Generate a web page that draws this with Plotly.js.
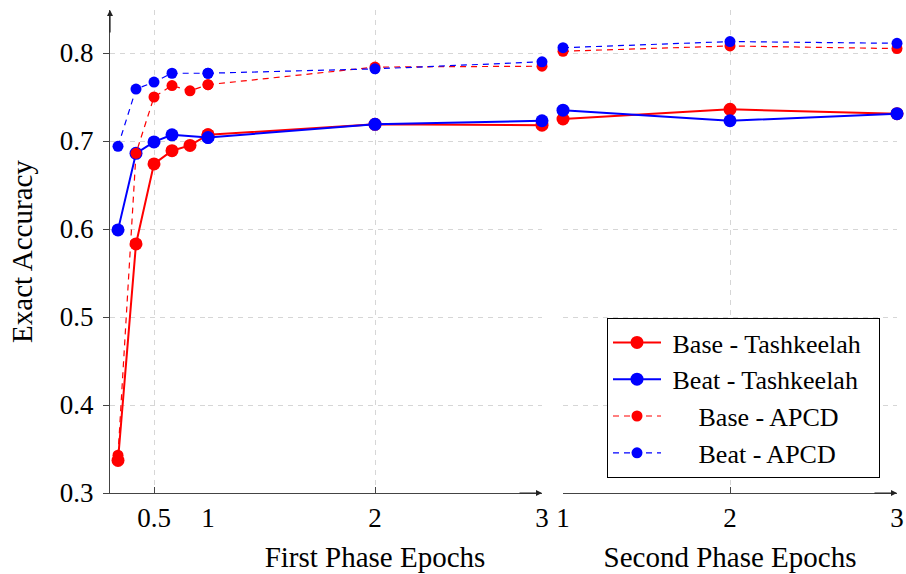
<!DOCTYPE html>
<html>
<head>
<meta charset="utf-8">
<script src="https://cdn.plot.ly/plotly-3.0.1.min.js"></script>
<style>html,body{margin:0;padding:0;background:#fff;}#chart{width:906px;height:574px;}</style>
</head>
<body>
<div id="chart"></div>
<script>
// ---- data ----
const phase1Epochs = [1/6, 2/6, 3/6, 4/6, 5/6, 1, 2, 3];
const phase2Epochs = [1, 2, 3];

const baseTashP1 = [0.337, 0.583, 0.674, 0.689, 0.695, 0.707, 0.719, 0.718];
const beatTashP1 = [0.599, 0.686, 0.699, 0.707, null, 0.704, 0.719, 0.723];
const baseApcdP1 = [0.343, 0.686, 0.750, 0.763, 0.757, 0.764, 0.784, 0.785];
const beatApcdP1 = [0.694, 0.759, 0.767, 0.777, null, 0.777, 0.782, 0.790];

const baseTashP2 = [0.725, 0.736, 0.731];
const beatTashP2 = [0.735, 0.723, 0.731];
const baseApcdP2 = [0.802, 0.808, 0.805];
const beatApcdP2 = [0.806, 0.813, 0.811];

const seriesNames = ["Base - Tashkeelah", "Beat - Tashkeelah", "Base - APCD", "Beat - APCD"];
const yTickVals = [0.3, 0.4, 0.5, 0.6, 0.7, 0.8];
const yTickText = ["0.3", "0.4", "0.5", "0.6", "0.7", "0.8"];
const xTickValsA = [0.5, 1];
const xTickTextA = ["0.5", "1"];
const xTickValsB = [2, 3];
const xTickTextB = ["2", "3"];
const xTickValsC = [1, 2, 3];
const xTickTextC = ["1", "2", "3"];

// ---- styles ----
const FONT = "Liberation Serif, Times New Roman, serif";
const RED = "#ff0000", BLUE = "#0000ff";
const NB = "\u00a0";
const styles = [
  {color: RED, dash: "solid", width: 2, size: 13, pad: NB, tail: NB + NB},
  {color: BLUE, dash: "solid", width: 2, size: 13, pad: NB, tail: NB + NB},
  {color: RED, dash: "6px,5px", width: 1.2, size: 11, pad: NB.repeat(5), tail: ""},
  {color: BLUE, dash: "6px,5px", width: 1.2, size: 11, pad: NB.repeat(5), tail: ""}
];
const p1 = [baseTashP1, beatTashP1, baseApcdP1, beatApcdP1];
const p2 = [baseTashP2, beatTashP2, baseApcdP2, beatApcdP2];

const traces = [];
p1.forEach((vals, i) => {
  const st = styles[i];
  const common = {
    type: "scatter", mode: "lines+markers", connectgaps: true, cliponaxis: false,
    line: {color: st.color, width: st.width, dash: st.dash},
    marker: {color: st.color, size: st.size},
    legendgroup: "g" + i, name: st.pad + seriesNames[i] + st.tail, hoverinfo: "x+y"
  };
  const xa = [], ya = [], xb = [], yb = [];
  phase1Epochs.forEach((x, k) => {
    if (x <= 1) { xa.push(x); ya.push(vals[k]); }
    if (x >= 1) { xb.push(x); yb.push(vals[k]); }
  });
  traces.push(Object.assign({}, common, {x: xa, y: ya, xaxis: "x", yaxis: "y", showlegend: true}));
  traces.push(Object.assign({}, common, {x: xb, y: yb, xaxis: "x2", yaxis: "y", showlegend: false}));
  traces.push(Object.assign({}, common, {x: phase2Epochs, y: p2[i], xaxis: "x3", yaxis: "y", showlegend: false}));
});

const W = 906, H = 574, L = 110, R = 9, T = 10, B = 81;
const plotW = W - L - R;
const dA = [0, (208 - L) / plotW];
const dB = [dA[1], (542 - L) / plotW];
const dC = [(563 - L) / plotW, 1];

const gridStyle = {showgrid: true, gridcolor: "#d6d6d6", gridwidth: 1, griddash: "5px,5px"};
const TICKFONT = {family: FONT, size: 27, color: "#000"};
const TITLEFONT = {family: FONT, size: 29, color: "#000"};
const xCommon = Object.assign({
  anchor: "y", showline: true, linecolor: "#444", linewidth: 1.2, zeroline: false,
  ticks: "inside", ticklen: 6, tickcolor: "#444", tickmode: "array",
  tickfont: TICKFONT, fixedrange: true
}, gridStyle);

const layout = {
  width: W, height: H,
  margin: {l: L, r: R, t: T, b: B},
  paper_bgcolor: "#fff", plot_bgcolor: "#fff",
  showlegend: true,
  font: {family: FONT, color: "#000"},
  xaxis: Object.assign({}, xCommon, {domain: dA, range: [0.0926, 1], tickvals: xTickValsA, ticktext: xTickTextA}),
  xaxis2: Object.assign({}, xCommon, {domain: dB, range: [1, 3], tickvals: xTickValsB, ticktext: xTickTextB,
    title: {text: "First Phase Epochs", font: TITLEFONT, standoff: 15}}),
  xaxis3: Object.assign({}, xCommon, {domain: dC, range: [1, 3], tickvals: xTickValsC, ticktext: xTickTextC,
    title: {text: "Second Phase Epochs", font: TITLEFONT, standoff: 15}}),
  yaxis: Object.assign({
    anchor: "x", domain: [0, 1], range: [0.3, 0.3 + 483 / 880],
    showline: true, linecolor: "#444", linewidth: 1.2, zeroline: false,
    ticks: "outside", ticklen: 6, tickcolor: "#444", tickmode: "array",
    tickvals: yTickVals, ticktext: yTickText, ticklabelstandoff: 4,
    tickfont: TICKFONT, fixedrange: true,
    title: {text: "Exact Accuracy", font: TITLEFONT, standoff: 18}
  }, gridStyle),
  legend: {
    x: (880 - L) / plotW, xanchor: "right", y: (H - B - 318) / (H - B - T), yanchor: "top",
    bgcolor: "#fff", bordercolor: "#000", borderwidth: 1,
    font: {family: FONT, size: 26, color: "#000"}, itemwidth: 48, tracegroupgap: 0
  },
  annotations: [
    {xref: "paper", yref: "paper", x: 0, y: 1, ax: 0, ay: 24, axref: "pixel", ayref: "pixel",
      showarrow: true, arrowhead: 2, arrowsize: 1, arrowwidth: 1.2, arrowcolor: "#222", text: ""},
    {xref: "x2", yref: "paper", x: 3, y: 0, ax: -24, ay: 0,
      showarrow: true, arrowhead: 2, arrowsize: 1, arrowwidth: 1.2, arrowcolor: "#222", text: ""},
    {xref: "x3", yref: "paper", x: 3, y: 0, ax: -24, ay: 0,
      showarrow: true, arrowhead: 2, arrowsize: 1, arrowwidth: 1.2, arrowcolor: "#222", text: ""}
  ]
};

Plotly.newPlot("chart", traces, layout, {displayModeBar: false, staticPlot: true});
</script>
</body>
</html>
